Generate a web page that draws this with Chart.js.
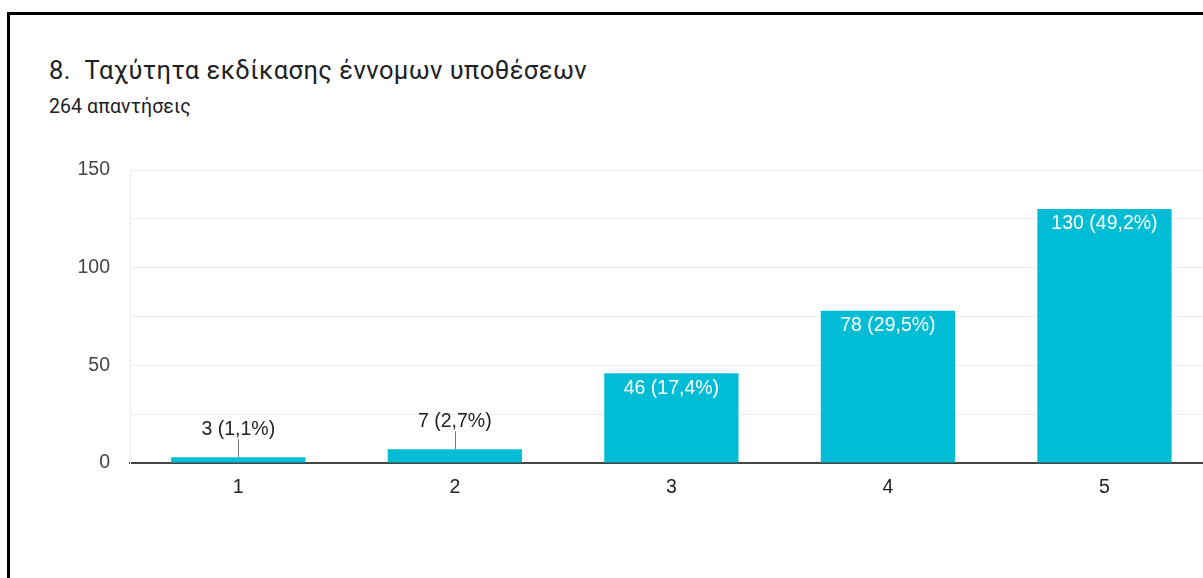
<!DOCTYPE html>
<html>
<head>
<meta charset="utf-8">
<script src="https://cdn.jsdelivr.net/npm/chart.js@4/dist/chart.umd.min.js"></script>
<style>
  html, body { margin: 0; padding: 0; background: #fff; width: 1203px; height: 578px; overflow: hidden; }
  #frame { position: absolute; left: 7px; top: 12px; width: 1300px; height: 700px; border-left: 3px solid #000; border-top: 3px solid #000; }
  #title { position: absolute; left: 49px; top: 58px; font-family: Roboto, sans-serif; font-size: 25.5px; line-height: 25px; letter-spacing: 0.45px; color: #202124; white-space: pre; }
  #subtitle { position: absolute; left: 49px; top: 97px; font-family: Roboto, sans-serif; font-size: 19.5px; line-height: 19px; letter-spacing: 0.1px; color: #202124; }
  #chart { position: absolute; left: 0; top: 0; }
</style>
</head>
<body>
<div id="frame"></div>
<div id="title">8.  Ταχύτητα εκδίκασης έννομων υποθέσεων</div>
<div id="subtitle">264 απαντήσεις</div>
<canvas id="chart" width="1240" height="578"></canvas>
<script>
var categories = ["1", "2", "3", "4", "5"];
var counts = [3, 7, 46, 78, 130];
var percents = ["1,1%", "2,7%", "17,4%", "29,5%", "49,2%"];
var yMax = 150;
var yStep = 25;
var yLabelStep = 50;

const labelFont = "19.5px 'Liberation Sans', Arial, sans-serif";

// value labels: white inside tall bars, above with a small leader line for short ones
const barLabels = {
  id: "barLabels",
  afterDatasetsDraw(chart) {
    const ctx = chart.ctx;
    const meta = chart.getDatasetMeta(0);
    ctx.save();
    ctx.font = labelFont;
    ctx.textAlign = "center";
    ctx.textBaseline = "middle";
    meta.data.forEach(function (bar, i) {
      const text = counts[i] + " (" + percents[i] + ")";
      const h = bar.base - bar.y;
      if (h > 40) {
        ctx.fillStyle = "#ffffff";
        ctx.fillText(text, bar.x, bar.y + 15);
      } else {
        ctx.strokeStyle = "#777";
        ctx.lineWidth = 1;
        ctx.beginPath();
        ctx.moveTo(Math.round(bar.x) + 0.5, bar.y - 18);
        ctx.lineTo(Math.round(bar.x) + 0.5, bar.y);
        ctx.stroke();
        ctx.fillStyle = "#222";
        ctx.fillText(text, bar.x, bar.y - 28);
      }
    });
    ctx.restore();
  }
};

window.onload = function () {
  const ctx = document.getElementById("chart");
  new Chart(ctx, {
    type: "bar",
    data: {
      labels: categories,
      datasets: [
        {
          data: counts,
          backgroundColor: "#00bcd4",
          borderWidth: 0,
          barPercentage: 0.62,
          categoryPercentage: 1,
        },
      ],
    },
    options: {
      responsive: false,
      animation: false,
      layout: { padding: { top: 170, left: 0, right: 27.25, bottom: 75 } },
      plugins: { legend: { display: false }, tooltip: { enabled: false } },
      scales: {
        x: {
          grid: { display: false, drawTicks: false },
          border: { color: "#444", width: 2 },
          ticks: { color: "#222", padding: 13, font: { family: "'Liberation Sans', Arial, sans-serif", size: 19.5 } },
          afterFit: (s) => { s.height = 40; },
        },
        y: {
          min: 0,
          max: yMax,
          grid: { color: "#ebebeb", lineWidth: 1, drawTicks: false },
          border: { color: "#ebebeb", width: 1 },
          ticks: {
            stepSize: yStep,
            padding: 20,
            color: "#444",
            font: { family: "'Liberation Sans', Arial, sans-serif", size: 19.5 },
            callback: (v) => (v % yLabelStep === 0 ? v : ""),
          },
          afterFit: (s) => { s.width = 130; },
        },
      },
    },
    plugins: [barLabels],
  });
};
</script>
</body>
</html>
